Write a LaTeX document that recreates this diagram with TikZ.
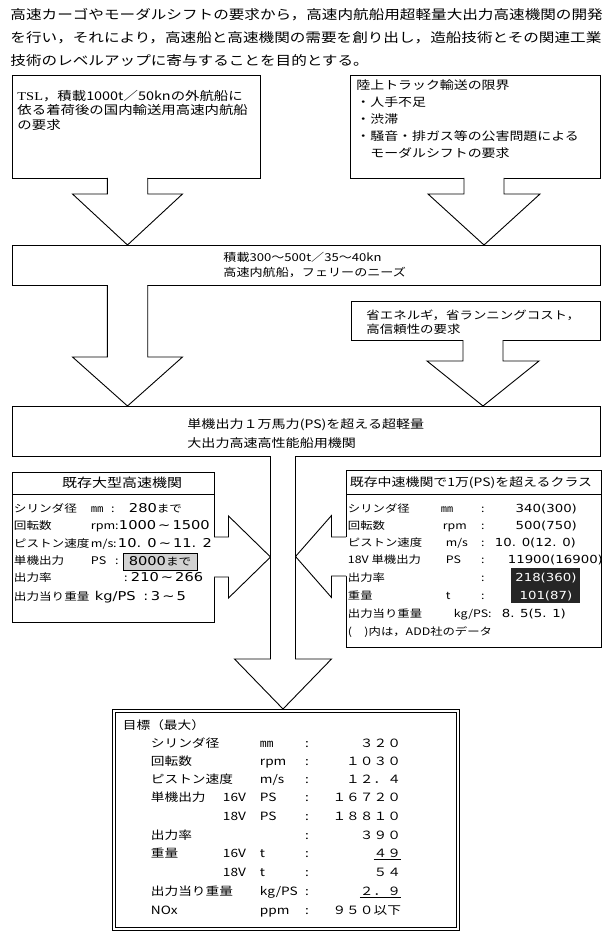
\documentclass[tikz,border=0pt]{standalone}
\usepackage{fontspec}
\setmainfont{Noto Sans CJK JP}[FakeStretch=1.2]
\newfontfamily\tslfont{Liberation Serif}[FakeStretch=1.2]
\newfontfamily\numfont{DejaVu Sans}[FakeStretch=1.2]
\usetikzlibrary{positioning, calc}

\newcommand{\jpsize}[2]{\fontsize{#1}{#2}\selectfont}
\newcommand{\putat}[3]{\rlap{\hspace{#1pt}\makebox[0pt][#2]{#3}}}
\newcommand{\valF}[1]{{\numfont\fontsize{12.2}{13}\selectfont #1}}
\newcommand{\valG}[1]{{\numfont\fontsize{11.1}{12}\selectfont #1}}

\tikzset{
  box/.style={draw, anchor=north west, inner sep=0pt, outer sep=0pt},
  para/.style={anchor=north west, inner sep=0pt, align=left},
  rowtxt/.style={anchor=base west, inner sep=0pt},
  fat/.style={line join=miter}
}

% hollow block arrows: from, to, x centre, half shaft, half head, head length
\newcommand{\fatdown}[6]{%
  \coordinate (fa) at (#3,0 |- #1.south);
  \coordinate (fb) at (#3,0 |- #2.north);
  \fill[white] ($(fa)+(-#4,-1)$) -- ($(fb)+(-#4,-#6)$) -- ($(fb)+(-#5,-#6)$) -- (fb)
    -- ($(fb)+(#5,-#6)$) -- ($(fb)+(#4,-#6)$) -- ($(fa)+(#4,-1)$) -- cycle;
  \draw[fat] ($(fa)+(-#4,0)$) -- ($(fb)+(-#4,-#6)$) -- ($(fb)+(-#5,-#6)$) -- (fb)
    -- ($(fb)+(#5,-#6)$) -- ($(fb)+(#4,-#6)$) -- ($(fa)+(#4,0)$);
}
% from, tip, half shaft, half head, head length
\newcommand{\fatright}[5]{%
  \coordinate (fa) at (#1.east |- #2);
  \fill[white] ($(fa)+(-1,-#3)$) -- ($(#2)+(-#5,-#3)$) -- ($(#2)+(-#5,-#4)$) -- (#2)
    -- ($(#2)+(-#5,#4)$) -- ($(#2)+(-#5,#3)$) -- ($(fa)+(-1,#3)$) -- cycle;
  \draw[fat] ($(fa)+(0,-#3)$) -- ($(#2)+(-#5,-#3)$) -- ($(#2)+(-#5,-#4)$) -- (#2)
    -- ($(#2)+(-#5,#4)$) -- ($(#2)+(-#5,#3)$) -- ($(fa)+(0,#3)$);
}
\newcommand{\fatleft}[5]{%
  \coordinate (fa) at (#1.west |- #2);
  \fill[white] ($(fa)+(1,-#3)$) -- ($(#2)+(#5,-#3)$) -- ($(#2)+(#5,-#4)$) -- (#2)
    -- ($(#2)+(#5,#4)$) -- ($(#2)+(#5,#3)$) -- ($(fa)+(1,#3)$) -- cycle;
  \draw[fat] ($(fa)+(0,-#3)$) -- ($(#2)+(#5,-#3)$) -- ($(#2)+(#5,-#4)$) -- (#2)
    -- ($(#2)+(#5,#4)$) -- ($(#2)+(#5,#3)$) -- ($(fa)+(0,#3)$);
}

\begin{document}
\begin{tikzpicture}[x=1pt, y=-1pt, line width=0.9pt]
    \fill[white] (0,0) rectangle (613,941);
    \useasboundingbox (0,0) rectangle (613,941);

    % Purpose
    \node[para, font=\jpsize{13}{23}] (aim) at (10,8) {高速カーゴやモーダルシフトの要求から，高速内航船用超軽量大出力高速機関の開発\\を行い，それにより，高速船と高速機関の需要を創り出し，造船技術とその関連工業\\技術のレベルアップに寄与することを目的とする。};

    % Demands
    \node[box, minimum width=248pt, minimum height=103pt] (tsl) at (12,75) {};
    \node[para, font=\jpsize{12}{14.7}] (tsltext) at (17,89.5) {{\tslfont TSL}，積載1000t／50knの外航船に\\依る着荷後の国内輸送用高速内航船\\の要求};
    \node[box, minimum width=250pt, minimum height=103pt] (truck) at (350,75) {};
    \node[para, font=\jpsize{11.6}{17}] (trucktext) at (356,79.7) {陸上トラック輸送の限界\\・人手不足\\・渋滞\\・騒音・排ガス等の公害問題による\\　モーダルシフトの要求};

    \node[box, minimum width=588pt, minimum height=40pt] (needs) at (12,245) {};
    \node[para, font=\jpsize{10.9}{15}] (needstext) at (223,252) {積載300〜500t／35〜40kn\\高速内航船，フェリーのニーズ};

    \node[box, minimum width=249pt, minimum height=39pt] (saving) at (351,301) {};
    \node[para, font=\jpsize{11.2}{14}] (savingtext) at (366,309.8) {省エネルギ，省ランニングコスト，\\高信頼性の要求};

    \node[box, minimum width=588pt, minimum height=50pt] (engine) at (12,406) {};
    \node[para, font=\jpsize{11.7}{19}] (enginetext) at (187,418.6) {単機出力１万馬力(PS)を超える超軽量\\大出力高速高性能船用機関};

    % Existing large high-speed engines
    \node[box, minimum width=202pt, minimum height=150pt] (large) at (12,472) {};
    \draw ($(large.north west)+(0,22)$) -- ($(large.north east)+(0,22)$);
    \node[inner sep=0pt, font=\jpsize{12.5}{15}] (largetitle) at (122,483) {既存大型高速機関};
    \node[draw, fill=gray!35, line width=0.6pt, inner sep=0pt, minimum width=74pt, minimum height=17pt, font=\jpsize{10.5}{13}] (upto) at (160,561.5) {\valF{8000}まで};
    \node[rowtxt, font=\jpsize{10.5}{13}] (f1) at (0,512.2) {\putat{13}{l}{シリンダ径}\putat{90}{l}{㎜}\putat{112}{c}{:}\putat{128}{l}{\valF{280}まで}};
    \node[rowtxt, font=\jpsize{10.5}{13}] (f2) at (0,529.2) {\putat{13}{l}{回転数}\putat{90}{l}{rpm}\putat{116}{c}{:}\putat{118}{l}{\valF{1000\,\textasciitilde\,1500}}};
    \node[rowtxt, font=\jpsize{10.5}{13}] (f3) at (0,547.2) {\putat{13}{l}{ピストン速度}\putat{90}{l}{m/s}\putat{114}{c}{:}\putat{117}{l}{\valF{10. 0\,\textasciitilde\,11. 2}}};
    \node[rowtxt, font=\jpsize{10.5}{13}] (f4) at (0,564.2) {\putat{13}{l}{単機出力}\putat{90}{l}{PS}\putat{116}{c}{:}};
    \node[rowtxt, font=\jpsize{10.5}{13}] (f5) at (0,581.2) {\putat{13}{l}{出力率}\putat{125}{c}{:}\putat{130}{l}{\valF{210\,\textasciitilde\,266}}};
    \node[rowtxt, font=\jpsize{10.5}{13}] (f6) at (0,600.2) {\putat{13}{l}{出力当り重量}\putat{94}{l}{\valF{kg/PS}}\putat{145}{c}{\valF{:}}\putat{150}{l}{\valF{3\,\textasciitilde\,5}}};

    % Existing medium-speed engines
    \node[box, minimum width=255pt, minimum height=177pt] (medium) at (346,470) {};
    \draw ($(medium.north west)+(0,24)$) -- ($(medium.north east)+(0,24)$);
    \node[inner sep=0pt, font=\jpsize{11.6}{14}] (mediumtitle) at (471,483) {既存中速機関で1万(PS)を超えるクラス};
    \fill[black!85] (511,568) rectangle (580,603);
    \node[rowtxt, font=\jpsize{10.3}{12}] (g1) at (0,512) {\putat{347}{l}{シリンダ径}\putat{440}{l}{㎜}\putat{482}{c}{:}\putat{576}{r}{\valG{340(300)}}};
    \node[rowtxt, font=\jpsize{10.3}{12}] (g2) at (0,529) {\putat{347}{l}{回転数}\putat{442}{l}{rpm}\putat{482}{c}{:}\putat{576}{r}{\valG{500(750)}}};
    \node[rowtxt, font=\jpsize{10.3}{12}] (g3) at (0,546) {\putat{347}{l}{ピストン速度}\putat{445}{l}{m/s}\putat{482}{c}{:}\putat{575}{r}{\valG{10. 0(12. 0)}}};
    \node[rowtxt, font=\jpsize{10.3}{12}] (g4) at (0,563) {\putat{347}{l}{18V 単機出力}\putat{445}{l}{PS}\putat{482}{c}{:}\putat{602}{r}{\valG{11900(16900)}}};
    \node[rowtxt, font=\jpsize{10.3}{12}] (g5) at (0,581) {\putat{347}{l}{出力率}\putat{482}{c}{:}\putat{545}{c}{\color{white}\valG{218(360)}}};
    \node[rowtxt, font=\jpsize{10.3}{12}] (g6) at (0,599) {\putat{347}{l}{重量}\putat{445}{l}{t}\putat{482}{c}{:}\putat{545}{c}{\color{white}\valG{101(87)}}};
    \node[rowtxt, font=\jpsize{10.3}{12}] (g7) at (0,617) {\putat{347}{l}{出力当り重量}\putat{453}{l}{kg/PS:}\putat{565}{r}{\valG{8. 5(5. 1)}}};
    \node[rowtxt, font=\jpsize{10.3}{12}] (g8) at (0,635) {\putat{347}{l}{(　)内は，ADD社のデータ}};

    % Target
    \node[draw, double, double distance=2.6pt, line width=0.8pt, anchor=north west, inner sep=0pt, outer sep=2.1pt, minimum width=344pt, minimum height=218pt] (target) at (112,709) {};
    \node[rowtxt, font=\jpsize{11.4}{13}] (h0) at (0,729.3) {\putat{122}{l}{目標（最大）}};
    \node[rowtxt, font=\jpsize{11.4}{13}] (h1) at (0,747.3) {\putat{150}{l}{シリンダ径}\putat{259}{l}{㎜}\putat{306}{c}{:}\putat{400}{r}{３２０}};
    \node[rowtxt, font=\jpsize{11.4}{13}] (h2) at (0,765.3) {\putat{150}{l}{回転数}\putat{259}{l}{rpm}\putat{306}{c}{:}\putat{400}{r}{１０３０}};
    \node[rowtxt, font=\jpsize{11.4}{13}] (h3) at (0,783.3) {\putat{150}{l}{ピストン速度}\putat{259}{l}{m/s}\putat{306}{c}{:}\putat{400}{r}{１２．４}};
    \node[rowtxt, font=\jpsize{11.4}{13}] (h4) at (0,801.3) {\putat{150}{l}{単機出力}\putat{222}{l}{16V}\putat{259}{l}{PS}\putat{306}{c}{:}\putat{400}{r}{１６７２０}};
    \node[rowtxt, font=\jpsize{11.4}{13}] (h5) at (0,820.3) {\putat{222}{l}{18V}\putat{259}{l}{PS}\putat{306}{c}{:}\putat{400}{r}{１８８１０}};
    \node[rowtxt, font=\jpsize{11.4}{13}] (h6) at (0,839.3) {\putat{150}{l}{出力率}\putat{306}{c}{:}\putat{400}{r}{３９０}};
    \node[rowtxt, font=\jpsize{11.4}{13}] (h7) at (0,857.3) {\putat{150}{l}{重量}\putat{222}{l}{16V}\putat{259}{l}{t}\putat{306}{c}{:}\putat{400}{r}{\underline{４９}}};
    \node[rowtxt, font=\jpsize{11.4}{13}] (h8) at (0,876.3) {\putat{222}{l}{18V}\putat{259}{l}{t}\putat{306}{c}{:}\putat{400}{r}{５４}};
    \node[rowtxt, font=\jpsize{11.4}{13}] (h9) at (0,895.3) {\putat{150}{l}{出力当り重量}\putat{259}{l}{kg/PS}\putat{306}{c}{:}\putat{400}{r}{\underline{２．９}}};
    \node[rowtxt, font=\jpsize{11.4}{13}] (h10) at (0,914.3) {\putat{150}{l}{NOx}\putat{259}{l}{ppm}\putat{306}{c}{:}\putat{400}{r}{９５０以下}};

    % Block arrows
    \fatdown{tsl}{needs}{127.5}{20.2}{55}{51}
    \fatdown{truck}{needs}{484}{20}{56}{51}
    \fatdown{needs}{engine}{127.5}{20.2}{55}{49}
    \fatdown{saving}{engine}{483}{20}{56}{45}
    \coordinate (shaftL) at (270.5,557);
    \coordinate (shaftR) at (295.5,556.5);
    \fatright{large}{shaftL}{20}{41}{42}
    \fatleft{medium}{shaftR}{19.5}{41}{36}
    \fatdown{engine}{target}{283}{12.5}{48.5}{50}
\end{tikzpicture}
\end{document}
